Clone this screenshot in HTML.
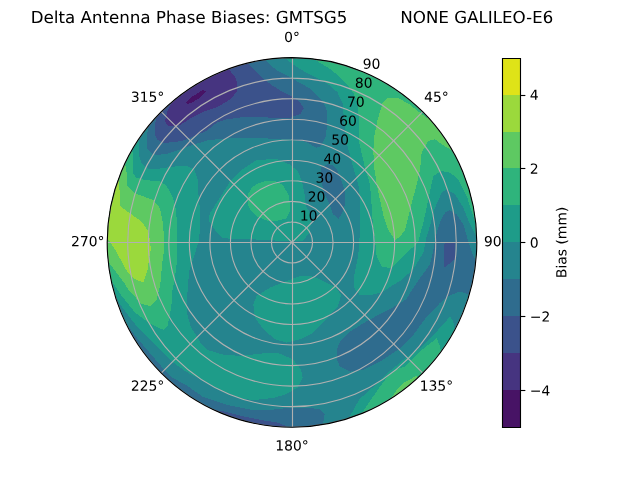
<!DOCTYPE html>
<html><head><meta charset="utf-8"><style>html,body{margin:0;padding:0;background:#fff;overflow:hidden}svg{display:block}</style></head><body>
<svg width="640" height="480" viewBox="0 0 460.8 345.6" version="1.1">
 
 <defs>
  <style type="text/css">*{stroke-linejoin: round; stroke-linecap: butt}</style>
 </defs>
 <g id="figure_1">
  <g id="patch_1">
   <path d="M 0 345.6 
L 460.8 345.6 
L 460.8 0 
L 0 0 
z
" style="fill: #ffffff"/>
  </g>
  <g id="axes_1">
   <g id="patch_2">
    <path d="M 343.296 174.528 
C 343.296 157.055246 339.854248 139.752393 333.167715 123.609673 
C 326.481182 107.466954 316.679903 92.798303 304.3248 80.4432 
C 291.969697 68.088097 277.301046 58.286818 261.158327 51.600285 
C 245.015607 44.913752 227.712754 41.472 210.24 41.472 
C 192.767246 41.472 175.464393 44.913752 159.321673 51.600285 
C 143.178954 58.286818 128.510303 68.088097 116.1552 80.4432 
C 103.800097 92.798303 93.998818 107.466954 87.312285 123.609673 
C 80.625752 139.752393 77.184 157.055246 77.184 174.528 
C 77.184 192.000754 80.625752 209.303607 87.312285 225.446327 
C 93.998818 241.589046 103.800097 256.257697 116.1552 268.6128 
C 128.510303 280.967903 143.178954 290.769182 159.321673 297.455715 
C 175.464393 304.142248 192.767246 307.584 210.24 307.584 
C 227.712754 307.584 245.015607 304.142248 261.158327 297.455715 
C 277.301046 290.769182 291.969697 280.967903 304.3248 268.6128 
C 316.679903 256.257697 326.481182 241.589046 333.167715 225.446327 
C 339.854248 209.303607 343.296 192.000754 343.296 174.528 
M 210.24 174.528 
C 210.24 174.528 210.24 174.528 210.24 174.528 
C 210.24 174.528 210.24 174.528 210.24 174.528 
C 210.24 174.528 210.24 174.528 210.24 174.528 
C 210.24 174.528 210.24 174.528 210.24 174.528 
C 210.24 174.528 210.24 174.528 210.24 174.528 
C 210.24 174.528 210.24 174.528 210.24 174.528 
C 210.24 174.528 210.24 174.528 210.24 174.528 
C 210.24 174.528 210.24 174.528 210.24 174.528 
C 210.24 174.528 210.24 174.528 210.24 174.528 
C 210.24 174.528 210.24 174.528 210.24 174.528 
C 210.24 174.528 210.24 174.528 210.24 174.528 
C 210.24 174.528 210.24 174.528 210.24 174.528 
C 210.24 174.528 210.24 174.528 210.24 174.528 
C 210.24 174.528 210.24 174.528 210.24 174.528 
C 210.24 174.528 210.24 174.528 210.24 174.528 
C 210.24 174.528 210.24 174.528 210.24 174.528 
z
" style="fill: #ffffff"/>
   </g>
   <g id="QuadContourSet_1">
    <path clip-path="url(#pded382b021)" style="fill: #471365"/>
    <path clip-path="url(#pded382b021)" style="fill: #463480"/>
    <path clip-path="url(#pded382b021)" style="fill: #3b528b"/>
    <path clip-path="url(#pded382b021)" style="fill: #2f6c8e"/>
    <path d="M 210.24 174.528 
L 210.24 174.528 
L 210.24 174.528 
L 210.24 174.528 
L 210.24 174.528 
L 210.24 174.528 
L 210.24 174.528 
L 210.24 174.528 
L 210.24 174.528 
L 210.24 174.528 
L 210.24 174.528 
L 210.24 174.528 
L 210.24 174.528 
L 210.24 174.528 
L 210.24 174.528 
L 210.24 174.528 
L 210.24 174.528 
L 210.24 174.528 
L 210.24 174.528 
L 210.24 174.528 
L 210.24 174.528 
L 210.24 174.528 
L 210.24 174.528 
L 210.24 174.528 
L 210.24 174.528 
L 210.24 174.528 
L 210.24 174.528 
L 210.24 174.528 
L 210.24 174.528 
L 210.24 174.528 
L 210.24 174.528 
L 210.24 174.528 
L 210.24 174.528 
L 210.24 174.528 
L 210.24 174.528 
L 210.24 174.528 
L 210.24 174.528 
L 210.24 174.528 
L 210.24 174.528 
L 210.24 174.528 
L 210.24 174.528 
L 210.24 174.528 
L 210.24 174.528 
L 210.24 174.528 
L 210.24 174.528 
L 210.24 174.528 
L 210.24 174.528 
L 210.24 174.528 
L 210.24 174.528 
L 210.24 174.528 
L 210.24 174.528 
L 210.24 174.528 
L 210.24 174.528 
L 210.24 174.528 
L 210.24 174.528 
L 210.24 174.528 
L 210.24 174.528 
L 210.24 174.528 
L 210.24 174.528 
L 210.24 174.528 
L 210.24 174.528 
L 210.24 174.528 
L 210.24 174.528 
L 210.24 174.528 
L 210.24 174.528 
L 210.24 174.528 
L 210.24 174.528 
L 210.24 174.528 
L 210.24 174.528 
L 210.24 174.528 
L 210.24 174.528 
L 210.24 174.528 
L 210.24 167.136 
L 210.24 159.744 
L 210.24 152.352 
L 210.24 144.96 
L 210.24 137.568 
L 210.24 130.176 
L 210.24 122.784 
L 210.24 115.392 
L 210.24 108 
L 210.24 100.608 
L 210.24 93.216 
L 210.24 85.824 
L 210.24 78.432 
L 210.24 71.04 
L 210.24 63.648 
L 210.24 56.256 
L 210.24 48.864 
L 210.24 41.472 
L 198.643405 41.978318 
L 187.135068 43.49342 
L 175.802573 46.005773 
L 164.732168 49.496259 
L 154.008105 53.938311 
L 143.712 59.298124 
L 133.922214 65.534906 
L 124.713252 72.601191 
L 116.1552 80.4432 
L 108.313191 89.001252 
L 101.246906 98.210214 
L 95.010124 108 
L 89.650311 118.296105 
L 85.208259 129.020168 
L 81.717773 140.090573 
L 79.20542 151.423068 
L 77.690318 162.931405 
L 77.184 174.528 
L 77.690318 186.124595 
L 79.20542 197.632932 
L 81.717773 208.965427 
L 85.208259 220.035832 
L 89.650311 230.759895 
L 95.010124 241.056 
L 101.246906 250.845786 
L 108.313191 260.054748 
L 116.1552 268.6128 
L 124.713252 276.454809 
L 133.922214 283.521094 
L 143.712 289.757876 
L 154.008105 295.117689 
L 164.732168 299.559741 
L 175.802573 303.050227 
L 187.135068 305.56258 
L 198.643405 307.077682 
L 210.24 307.584 
L 221.836595 307.077682 
L 233.344932 305.56258 
L 244.677427 303.050227 
L 255.747832 299.559741 
L 266.471895 295.117689 
L 276.768 289.757876 
L 286.557786 283.521094 
L 295.766748 276.454809 
L 304.3248 268.6128 
L 312.166809 260.054748 
L 319.233094 250.845786 
L 325.469876 241.056 
L 330.829689 230.759895 
L 335.271741 220.035832 
L 338.762227 208.965427 
L 341.27458 197.632932 
L 342.789682 186.124595 
L 343.296 174.528 
L 342.789682 162.931405 
L 341.27458 151.423068 
L 338.762227 140.090573 
L 335.271741 129.020168 
L 330.829689 118.296105 
L 325.469876 108 
L 319.233094 98.210214 
L 312.166809 89.001252 
L 304.3248 80.4432 
L 295.766748 72.601191 
L 286.557786 65.534906 
L 276.768 59.298124 
L 266.471895 53.938311 
L 255.747832 49.496259 
L 244.677427 46.005773 
L 233.344932 43.49342 
L 221.836595 41.978318 
L 210.24 41.472 
L 210.24 48.864 
L 210.24 56.256 
L 210.24 63.648 
L 210.24 71.04 
L 210.24 78.432 
L 210.24 85.824 
L 210.24 93.216 
L 210.24 100.608 
L 210.24 108 
L 210.24 115.392 
L 210.24 122.784 
L 210.24 130.176 
L 210.24 137.568 
L 210.24 144.96 
L 210.24 152.352 
L 210.24 159.744 
L 210.24 167.136 
L 210.24 174.528 
z
" clip-path="url(#pded382b021)" style="fill: #25848e"/>
    <path clip-path="url(#pded382b021)" style="fill: #1e9c89"/>
    <path clip-path="url(#pded382b021)" style="fill: #2fb47c"/>
    <path clip-path="url(#pded382b021)" style="fill: #5ec962"/>
    <path clip-path="url(#pded382b021)" style="fill: #9bd93c"/>
    <path clip-path="url(#pded382b021)" style="fill: #dfe318"/>
   </g>
   <g clip-path="url(#pded382b021)" shape-rendering="crispEdges"><path d="M95.76 81.36 L106.92 90.72 L106.20 95.04 L105.48 100.08 L105.48 106.56 L108.72 110.16 L112.32 111.60 L119.52 110.88 L126.72 108.72 L136.08 105.12 L150.48 100.80 L163.30 99.72 L178.34 99.00 L193.32 99.72 L208.30 100.30 L220.32 102.10 L227.52 106.34 L231.12 105.12 L234.72 97.92 L235.66 87.84 L235.44 80.64 L234.14 76.03 L230.40 70.78 L223.20 63.72 L215.10 59.22 L208.80 55.62 L201.60 52.02 L196.20 48.24 L191.52 43.20 L188.64 28.80 L159.84 36.00 L105.84 69.84Z" fill="#2f6c8e"/><path d="M102.96 72.36 L113.40 82.37 L111.96 87.84 L111.46 96.48 L113.40 100.80 L117.36 102.60 L121.68 102.60 L131.04 101.52 L141.12 97.56 L148.32 94.32 L156.24 88.20 L162.72 86.04 L172.80 84.60 L184.32 84.24 L195.62 84.74 L208.80 84.74 L216.00 82.30 L218.70 78.12 L216.00 73.62 L209.70 69.12 L202.50 65.52 L195.30 61.02 L188.10 55.62 L181.80 49.32 L178.20 45.72 L172.80 31.39 L144.00 39.60 L115.20 61.20Z" fill="#3b528b"/><path d="M115.20 63.36 L123.84 73.44 L120.60 80.28 L118.80 87.48 L120.60 90.36 L125.28 91.08 L129.60 90.00 L138.74 84.24 L146.88 80.28 L157.32 76.68 L166.32 71.28 L170.64 65.52 L171.00 60.48 L169.20 55.44 L164.88 50.04 L162.72 49.68 L159.84 36.00 L136.80 44.64Z" fill="#463480"/><path d="M133.92 73.94 L137.88 69.84 L145.80 64.94 L148.32 65.52 L144.72 69.84 L139.03 73.44 L135.14 74.88Z" fill="#471365"/><path d="M231.12 120.74 L235.94 118.08 L239.76 119.16 L242.64 122.40 L246.02 130.32 L248.40 138.74 L248.40 146.88 L247.18 151.92 L243.58 157.82 L239.76 154.08 L237.10 146.38 L233.28 138.74 L231.12 129.10Z" fill="#2f6c8e"/><path d="M324.00 151.34 L328.82 154.30 L333.58 161.50 L338.22 177.12 L340.20 182.88 L342.50 187.92 L357.12 188.64 L354.96 216.00 L338.83 216.14 L336.74 211.90 L331.20 209.81 L323.10 213.12 L316.80 218.16 L307.22 228.02 L297.58 241.20 L288.00 250.78 L273.60 260.42 L261.58 266.40 L252.00 267.62 L244.80 264.02 L242.28 257.98 L242.42 252.00 L244.80 246.02 L252.00 238.82 L261.58 232.78 L270.00 228.02 L279.58 223.20 L288.00 218.38 L292.32 215.64 L300.02 203.54 L309.60 190.30 L312.12 179.50 L314.64 167.04 L317.52 158.40 L320.40 153.14Z" fill="#2f6c8e"/><path d="M319.82 175.68 L322.56 174.24 L327.60 173.88 L327.60 186.70 L319.82 192.74Z" fill="#3b528b"/><path d="M72.72 216.00 L83.16 213.84 L89.82 231.62 L98.82 243.58 L107.82 254.09 L116.82 264.60 L124.34 272.09 L133.92 277.20 L145.94 285.62 L163.94 291.60 L181.94 295.20 L191.52 295.56 L203.54 294.12 L221.54 293.54 L229.90 294.70 L233.64 298.44 L232.56 305.28 L237.60 320.40 L158.40 316.80 L93.60 288.00 L72.72 237.60Z" fill="#2f6c8e"/><path d="M154.80 295.20 L161.50 296.28 L175.90 299.88 L191.52 303.12 L198.72 303.84 L205.92 306.72 L208.80 320.40 L154.80 309.60Z" fill="#3b528b"/><path d="M90.00 90.00 L100.08 97.92 L100.44 105.12 L100.08 112.32 L102.24 118.08 L106.56 121.32 L112.32 121.68 L124.34 120.02 L133.92 119.16 L139.90 121.90 L142.34 129.10 L142.92 140.40 L144.00 151.20 L144.36 160.78 L143.28 172.80 L139.68 184.82 L136.44 194.40 L135.36 203.76 L134.64 216.58 L135.00 226.80 L137.52 235.80 L141.12 241.20 L144.72 247.68 L149.54 252.00 L160.34 255.24 L173.52 256.32 L191.52 254.16 L201.10 254.52 L210.74 258.70 L216.72 265.90 L217.94 271.94 L214.34 279.14 L205.92 283.90 L197.50 286.34 L183.60 288.00 L174.74 287.28 L157.90 280.80 L144.00 272.88 L133.92 267.62 L125.28 261.36 L117.00 253.44 L109.80 246.60 L100.80 237.60 L95.83 231.62 L86.83 219.60 L80.06 206.10 L64.80 208.80 L72.00 115.20Z" fill="#1e9c89"/><path d="M184.32 115.56 L198.72 114.12 L208.30 118.30 L214.34 123.12 L217.30 130.32 L219.10 138.74 L220.32 148.68 L222.70 152.42 L223.92 160.78 L222.70 167.98 L217.94 173.38 L202.32 173.38 L184.32 172.44 L160.34 171.58 L155.52 166.82 L150.12 158.40 L151.20 153.36 L159.12 141.12 L165.10 131.54 L174.74 121.90Z" fill="#1e9c89"/><path d="M185.76 132.12 L191.52 130.32 L198.72 130.68 L203.76 133.20 L207.72 140.40 L208.80 147.60 L208.44 152.64 L205.92 157.32 L200.16 158.76 L192.96 159.12 L185.76 156.24 L180.72 151.92 L178.20 146.88 L178.56 139.68 L181.44 135.00Z" fill="#2fb47c"/><path d="M182.38 219.10 L184.82 213.12 L194.40 207.14 L206.42 202.32 L216.00 198.72 L223.20 198.72 L230.40 201.10 L237.60 204.84 L241.92 206.64 L245.52 212.62 L243.14 221.04 L237.10 227.02 L232.78 232.34 L225.58 239.54 L216.00 244.30 L206.42 246.74 L198.00 244.30 L189.58 237.10 L183.60 228.74Z" fill="#1e9c89"/><path d="M204.48 41.47 L210.17 45.65 L216.00 49.68 L223.20 53.71 L230.40 57.24 L236.88 61.20 L243.00 66.42 L246.60 74.52 L247.50 83.52 L247.68 87.30 L249.62 102.74 L254.38 120.74 L257.98 132.70 L259.20 144.00 L259.20 160.78 L258.62 178.78 L257.04 188.64 L255.10 198.22 L254.52 206.64 L258.70 212.04 L265.90 212.62 L275.54 210.24 L282.74 205.42 L288.00 202.32 L297.58 193.90 L304.78 181.94 L307.22 169.92 L309.60 162.72 L313.20 149.54 L318.02 138.74 L321.62 136.30 L327.60 139.90 L333.58 149.54 L338.40 161.50 L342.72 169.92 L360.00 169.92 L338.40 93.60 L288.00 50.40 L204.48 25.20Z" fill="#1e9c89"/><path d="M251.28 300.96 L258.70 287.50 L269.50 277.92 L279.14 268.34 L285.12 263.52 L291.60 257.98 L303.62 249.62 L313.20 239.98 L324.00 228.02 L326.38 231.62 L327.60 237.60 L342.00 241.20 L273.60 316.80Z" fill="#1e9c89"/><path d="M259.20 299.52 L262.30 294.70 L273.10 279.14 L280.30 269.50 L285.12 265.90 L291.60 264.02 L303.62 252.00 L314.42 243.58 L316.80 249.62 L317.52 253.44 L331.20 266.40 L280.80 309.60Z" fill="#2fb47c"/><path d="M282.24 285.84 L285.12 281.52 L291.60 275.04 L300.02 270.58 L306.00 277.20 L288.00 291.60Z" fill="#5ec962"/><path d="M224.10 41.76 L231.30 45.72 L238.50 50.22 L244.80 55.62 L250.20 61.02 L254.70 67.32 L257.40 74.52 L258.30 83.52 L258.34 87.84 L258.62 102.74 L262.80 120.74 L266.40 132.70 L267.62 148.32 L267.84 154.80 L270.00 172.80 L271.22 184.82 L274.82 192.02 L282.02 193.18 L285.62 189.58 L292.82 182.38 L296.64 178.56 L300.96 174.96 L305.28 158.40 L308.38 143.50 L311.98 126.72 L318.02 123.12 L324.00 124.34 L329.98 129.10 L336.02 141.12 L340.78 155.52 L343.44 167.04 L360.00 167.04 L345.60 86.40 L302.40 50.40 L230.40 27.36Z" fill="#2fb47c"/><path d="M269.50 97.92 L271.94 85.90 L275.54 73.94 L279.14 70.34 L286.34 70.34 L294.70 75.10 L302.40 81.14 L307.22 84.74 L316.80 72.00 L345.60 115.20 L327.60 109.94 L324.00 107.50 L318.02 103.90 L313.20 100.30 L308.38 101.52 L303.62 109.94 L302.40 122.40 L300.24 131.76 L295.20 151.20 L291.60 165.60 L288.00 170.64 L284.40 172.80 L279.58 165.60 L275.98 154.80 L273.60 144.00 L271.22 132.70 L269.42 120.74 L268.78 108.72Z" fill="#5ec962"/><path d="M82.80 100.80 L94.32 106.56 L96.12 111.60 L95.40 124.20 L98.10 127.80 L104.40 129.60 L115.20 130.68 L119.52 133.20 L124.34 141.84 L126.72 151.20 L127.30 158.98 L127.30 189.00 L125.82 201.02 L124.20 208.80 L123.30 221.40 L120.60 234.90 L117.90 237.60 L108.00 233.10 L97.20 225.00 L86.40 211.50 L79.02 200.23 L64.80 201.60 L68.40 115.20Z" fill="#2fb47c"/><path d="M72.00 115.20 L90.00 117.36 L91.08 123.84 L91.22 133.20 L97.20 139.18 L110.38 144.00 L115.20 149.98 L117.58 162.00 L118.22 180.00 L116.82 189.00 L115.34 205.20 L112.68 216.00 L108.36 220.50 L101.70 218.70 L92.70 208.80 L89.82 204.30 L81.72 193.50 L77.76 187.92 L64.80 188.64Z" fill="#5ec962"/><path d="M68.40 126.00 L85.32 128.88 L86.40 141.12 L86.76 148.68 L93.60 153.58 L102.02 159.62 L106.78 166.82 L108.00 172.80 L108.58 180.00 L107.82 183.02 L106.20 194.40 L103.32 203.40 L96.84 200.88 L91.15 194.83 L83.09 180.00 L77.76 172.08 L64.80 172.08Z" fill="#9bd93c"/></g>
<g id="matplotlib.axis_1">
    <g id="xtick_1">
     <g id="line2d_1">
      <path d="M 210.6 174.6 L 210.6 42.12" clip-path="url(#pded382b021)" style="fill: none; stroke: #b0b0b0; stroke-width: 0.8; stroke-linecap: square"/>
     </g>
     <g id="text_1">
      <!-- 0° -->
      <g transform="translate(204.55875 30.231375) scale(0.1 -0.1)">
       <defs>
        <path id="DejaVuSans-30" d="M 2034 4250 
Q 1547 4250 1301 3770 
Q 1056 3291 1056 2328 
Q 1056 1369 1301 889 
Q 1547 409 2034 409 
Q 2525 409 2770 889 
Q 3016 1369 3016 2328 
Q 3016 3291 2770 3770 
Q 2525 4250 2034 4250 
z
M 2034 4750 
Q 2819 4750 3233 4129 
Q 3647 3509 3647 2328 
Q 3647 1150 3233 529 
Q 2819 -91 2034 -91 
Q 1250 -91 836 529 
Q 422 1150 422 2328 
Q 422 3509 836 4129 
Q 1250 4750 2034 4750 
z
" transform="scale(0.015625)"/>
        <path id="DejaVuSans-b0" d="M 1600 4347 
Q 1350 4347 1178 4173 
Q 1006 4000 1006 3750 
Q 1006 3503 1178 3333 
Q 1350 3163 1600 3163 
Q 1850 3163 2022 3333 
Q 2194 3503 2194 3750 
Q 2194 3997 2020 4172 
Q 1847 4347 1600 4347 
z
M 1600 4750 
Q 1800 4750 1984 4673 
Q 2169 4597 2303 4453 
Q 2447 4313 2519 4134 
Q 2591 3956 2591 3750 
Q 2591 3338 2302 3052 
Q 2013 2766 1594 2766 
Q 1172 2766 890 3047 
Q 609 3328 609 3750 
Q 609 4169 896 4459 
Q 1184 4750 1600 4750 
z
" transform="scale(0.015625)"/>
       </defs>
       <use href="#DejaVuSans-30"/>
       <use href="#DejaVuSans-b0" transform="translate(63.623047 0)"/>
      </g>
     </g>
    </g>
    <g id="xtick_2">
     <g id="line2d_2">
      <path d="M 210.24 174.528 
L 304.3248 80.4432 
" clip-path="url(#pded382b021)" style="fill: none; stroke: #b0b0b0; stroke-width: 0.8; stroke-linecap: square"/>
     </g>
     <g id="text_2">
      <!-- 45° -->
      <g transform="translate(305.361795 73.30308) scale(0.1 -0.1)">
       <defs>
        <path id="DejaVuSans-34" d="M 2419 4116 
L 825 1625 
L 2419 1625 
L 2419 4116 
z
M 2253 4666 
L 3047 4666 
L 3047 1625 
L 3713 1625 
L 3713 1100 
L 3047 1100 
L 3047 0 
L 2419 0 
L 2419 1100 
L 313 1100 
L 313 1709 
L 2253 4666 
z
" transform="scale(0.015625)"/>
        <path id="DejaVuSans-35" d="M 691 4666 
L 3169 4666 
L 3169 4134 
L 1269 4134 
L 1269 2991 
Q 1406 3038 1543 3061 
Q 1681 3084 1819 3084 
Q 2600 3084 3056 2656 
Q 3513 2228 3513 1497 
Q 3513 744 3044 326 
Q 2575 -91 1722 -91 
Q 1428 -91 1123 -41 
Q 819 9 494 109 
L 494 744 
Q 775 591 1075 516 
Q 1375 441 1709 441 
Q 2250 441 2565 725 
Q 2881 1009 2881 1497 
Q 2881 1984 2565 2268 
Q 2250 2553 1709 2553 
Q 1456 2553 1204 2497 
Q 953 2441 691 2322 
L 691 4666 
z
" transform="scale(0.015625)"/>
       </defs>
       <use href="#DejaVuSans-34"/>
       <use href="#DejaVuSans-35" transform="translate(63.623047 0)"/>
       <use href="#DejaVuSans-b0" transform="translate(127.246094 0)"/>
      </g>
     </g>
    </g>
    <g id="xtick_3">
     <g id="line2d_3">
      <path d="M 210.6 174.6 L 343.8 174.6" clip-path="url(#pded382b021)" style="fill: none; stroke: #b0b0b0; stroke-width: 0.8; stroke-linecap: square"/>
     </g>
     <g id="text_3">
      <!-- 90° -->
      <g transform="translate(348.4335 177.287375) scale(0.1 -0.1)">
       <defs>
        <path id="DejaVuSans-39" d="M 703 97 
L 703 672 
Q 941 559 1184 500 
Q 1428 441 1663 441 
Q 2288 441 2617 861 
Q 2947 1281 2994 2138 
Q 2813 1869 2534 1725 
Q 2256 1581 1919 1581 
Q 1219 1581 811 2004 
Q 403 2428 403 3163 
Q 403 3881 828 4315 
Q 1253 4750 1959 4750 
Q 2769 4750 3195 4129 
Q 3622 3509 3622 2328 
Q 3622 1225 3098 567 
Q 2575 -91 1691 -91 
Q 1453 -91 1209 -44 
Q 966 3 703 97 
z
M 1959 2075 
Q 2384 2075 2632 2365 
Q 2881 2656 2881 3163 
Q 2881 3666 2632 3958 
Q 2384 4250 1959 4250 
Q 1534 4250 1286 3958 
Q 1038 3666 1038 3163 
Q 1038 2656 1286 2365 
Q 1534 2075 1959 2075 
z
" transform="scale(0.015625)"/>
       </defs>
       <use href="#DejaVuSans-39"/>
       <use href="#DejaVuSans-30" transform="translate(63.623047 0)"/>
       <use href="#DejaVuSans-b0" transform="translate(127.246094 0)"/>
      </g>
     </g>
    </g>
    <g id="xtick_4">
     <g id="line2d_4">
      <path d="M 210.24 174.528 
L 304.3248 268.6128 
" clip-path="url(#pded382b021)" style="fill: none; stroke: #b0b0b0; stroke-width: 0.8; stroke-linecap: square"/>
     </g>
     <g id="text_4">
      <!-- 135° -->
      <g transform="translate(302.180545 281.27167) scale(0.1 -0.1)">
       <defs>
        <path id="DejaVuSans-31" d="M 794 531 
L 1825 531 
L 1825 4091 
L 703 3866 
L 703 4441 
L 1819 4666 
L 2450 4666 
L 2450 531 
L 3481 531 
L 3481 0 
L 794 0 
L 794 531 
z
" transform="scale(0.015625)"/>
        <path id="DejaVuSans-33" d="M 2597 2516 
Q 3050 2419 3304 2112 
Q 3559 1806 3559 1356 
Q 3559 666 3084 287 
Q 2609 -91 1734 -91 
Q 1441 -91 1130 -33 
Q 819 25 488 141 
L 488 750 
Q 750 597 1062 519 
Q 1375 441 1716 441 
Q 2309 441 2620 675 
Q 2931 909 2931 1356 
Q 2931 1769 2642 2001 
Q 2353 2234 1838 2234 
L 1294 2234 
L 1294 2753 
L 1863 2753 
Q 2328 2753 2575 2939 
Q 2822 3125 2822 3475 
Q 2822 3834 2567 4026 
Q 2313 4219 1838 4219 
Q 1578 4219 1281 4162 
Q 984 4106 628 3988 
L 628 4550 
Q 988 4650 1302 4700 
Q 1616 4750 1894 4750 
Q 2613 4750 3031 4423 
Q 3450 4097 3450 3541 
Q 3450 3153 3228 2886 
Q 3006 2619 2597 2516 
z
" transform="scale(0.015625)"/>
       </defs>
       <use href="#DejaVuSans-31"/>
       <use href="#DejaVuSans-33" transform="translate(63.623047 0)"/>
       <use href="#DejaVuSans-35" transform="translate(127.246094 0)"/>
       <use href="#DejaVuSans-b0" transform="translate(190.869141 0)"/>
      </g>
     </g>
    </g>
    <g id="xtick_5">
     <g id="line2d_5">
      <path d="M 210.6 174.6 L 210.6 307.8" clip-path="url(#pded382b021)" style="fill: none; stroke: #b0b0b0; stroke-width: 0.8; stroke-linecap: square"/>
     </g>
     <g id="text_5">
      <!-- 180° -->
      <g transform="translate(198.19625 324.343375) scale(0.1 -0.1)">
       <defs>
        <path id="DejaVuSans-38" d="M 2034 2216 
Q 1584 2216 1326 1975 
Q 1069 1734 1069 1313 
Q 1069 891 1326 650 
Q 1584 409 2034 409 
Q 2484 409 2743 651 
Q 3003 894 3003 1313 
Q 3003 1734 2745 1975 
Q 2488 2216 2034 2216 
z
M 1403 2484 
Q 997 2584 770 2862 
Q 544 3141 544 3541 
Q 544 4100 942 4425 
Q 1341 4750 2034 4750 
Q 2731 4750 3128 4425 
Q 3525 4100 3525 3541 
Q 3525 3141 3298 2862 
Q 3072 2584 2669 2484 
Q 3125 2378 3379 2068 
Q 3634 1759 3634 1313 
Q 3634 634 3220 271 
Q 2806 -91 2034 -91 
Q 1263 -91 848 271 
Q 434 634 434 1313 
Q 434 1759 690 2068 
Q 947 2378 1403 2484 
z
M 1172 3481 
Q 1172 3119 1398 2916 
Q 1625 2713 2034 2713 
Q 2441 2713 2670 2916 
Q 2900 3119 2900 3481 
Q 2900 3844 2670 4047 
Q 2441 4250 2034 4250 
Q 1625 4250 1398 4047 
Q 1172 3844 1172 3481 
z
" transform="scale(0.015625)"/>
       </defs>
       <use href="#DejaVuSans-31"/>
       <use href="#DejaVuSans-38" transform="translate(63.623047 0)"/>
       <use href="#DejaVuSans-30" transform="translate(127.246094 0)"/>
       <use href="#DejaVuSans-b0" transform="translate(190.869141 0)"/>
      </g>
     </g>
    </g>
    <g id="xtick_6">
     <g id="line2d_6">
      <path d="M 210.24 174.528 
L 116.1552 268.6128 
" clip-path="url(#pded382b021)" style="fill: none; stroke: #b0b0b0; stroke-width: 0.8; stroke-linecap: square"/>
     </g>
     <g id="text_6">
      <!-- 225° -->
      <g transform="translate(94.211955 281.27167) scale(0.1 -0.1)">
       <defs>
        <path id="DejaVuSans-32" d="M 1228 531 
L 3431 531 
L 3431 0 
L 469 0 
L 469 531 
Q 828 903 1448 1529 
Q 2069 2156 2228 2338 
Q 2531 2678 2651 2914 
Q 2772 3150 2772 3378 
Q 2772 3750 2511 3984 
Q 2250 4219 1831 4219 
Q 1534 4219 1204 4116 
Q 875 4013 500 3803 
L 500 4441 
Q 881 4594 1212 4672 
Q 1544 4750 1819 4750 
Q 2544 4750 2975 4387 
Q 3406 4025 3406 3419 
Q 3406 3131 3298 2873 
Q 3191 2616 2906 2266 
Q 2828 2175 2409 1742 
Q 1991 1309 1228 531 
z
" transform="scale(0.015625)"/>
       </defs>
       <use href="#DejaVuSans-32"/>
       <use href="#DejaVuSans-32" transform="translate(63.623047 0)"/>
       <use href="#DejaVuSans-35" transform="translate(127.246094 0)"/>
       <use href="#DejaVuSans-b0" transform="translate(190.869141 0)"/>
      </g>
     </g>
    </g>
    <g id="xtick_7">
     <g id="line2d_7">
      <path d="M 210.6 174.6 L 77.4 174.6" clip-path="url(#pded382b021)" style="fill: none; stroke: #b0b0b0; stroke-width: 0.8; stroke-linecap: square"/>
     </g>
     <g id="text_7">
      <!-- 270° -->
      <g transform="translate(51.14025 177.287375) scale(0.1 -0.1)">
       <defs>
        <path id="DejaVuSans-37" d="M 525 4666 
L 3525 4666 
L 3525 4397 
L 1831 0 
L 1172 0 
L 2766 4134 
L 525 4134 
L 525 4666 
z
" transform="scale(0.015625)"/>
       </defs>
       <use href="#DejaVuSans-32"/>
       <use href="#DejaVuSans-37" transform="translate(63.623047 0)"/>
       <use href="#DejaVuSans-30" transform="translate(127.246094 0)"/>
       <use href="#DejaVuSans-b0" transform="translate(190.869141 0)"/>
      </g>
     </g>
    </g>
    <g id="xtick_8">
     <g id="line2d_8">
      <path d="M 210.24 174.528 
L 116.1552 80.4432 
" clip-path="url(#pded382b021)" style="fill: none; stroke: #b0b0b0; stroke-width: 0.8; stroke-linecap: square"/>
     </g>
     <g id="text_8">
      <!-- 315° -->
      <g transform="translate(94.211955 73.30308) scale(0.1 -0.1)">
       <use href="#DejaVuSans-33"/>
       <use href="#DejaVuSans-31" transform="translate(63.623047 0)"/>
       <use href="#DejaVuSans-35" transform="translate(127.246094 0)"/>
       <use href="#DejaVuSans-b0" transform="translate(190.869141 0)"/>
      </g>
     </g>
    </g>
   </g>
   <g id="matplotlib.axis_2">
    <g id="ytick_1">
     <g id="line2d_9">
      <path d="M 210.24 159.744 
C 212.181417 159.744 214.103956 160.126417 215.897592 160.869365 
C 217.691227 161.612313 219.321077 162.701344 220.693867 164.074133 
C 222.066656 165.446923 223.155687 167.076773 223.898635 168.870408 
C 224.641583 170.664044 225.024 172.586583 225.024 174.528 
C 225.024 176.469417 224.641583 178.391956 223.898635 180.185592 
C 223.155687 181.979227 222.066656 183.609077 220.693867 184.981867 
C 219.321077 186.354656 217.691227 187.443687 215.897592 188.186635 
C 214.103956 188.929583 212.181417 189.312 210.24 189.312 
C 208.298583 189.312 206.376044 188.929583 204.582408 188.186635 
C 202.788773 187.443687 201.158923 186.354656 199.786133 184.981867 
C 198.413344 183.609077 197.324313 181.979227 196.581365 180.185592 
C 195.838417 178.391956 195.456 176.469417 195.456 174.528 
C 195.456 172.586583 195.838417 170.664044 196.581365 168.870408 
C 197.324313 167.076773 198.413344 165.446923 199.786133 164.074133 
C 201.158923 162.701344 202.788773 161.612313 204.582408 160.869365 
C 206.376044 160.126417 208.298583 159.744 210.24 159.744 
" clip-path="url(#pded382b021)" style="fill: none; stroke: #b0b0b0; stroke-width: 0.8; stroke-linecap: square"/>
     </g>
     <g id="text_9">
      <!-- 10 -->
      <g transform="translate(215.897592 158.789677) scale(0.1 -0.1)">
       <use href="#DejaVuSans-31"/>
       <use href="#DejaVuSans-30" transform="translate(63.623047 0)"/>
      </g>
     </g>
    </g>
    <g id="ytick_2">
     <g id="line2d_10">
      <path d="M 210.24 144.96 
C 214.122834 144.96 217.967913 145.724834 221.555184 147.21073 
C 225.142455 148.696626 228.402155 150.874688 231.147733 153.620267 
C 233.893312 156.365845 236.071374 159.625545 237.55727 163.212816 
C 239.043166 166.800087 239.808 170.645166 239.808 174.528 
C 239.808 178.410834 239.043166 182.255913 237.55727 185.843184 
C 236.071374 189.430455 233.893312 192.690155 231.147733 195.435733 
C 228.402155 198.181312 225.142455 200.359374 221.555184 201.84527 
C 217.967913 203.331166 214.122834 204.096 210.24 204.096 
C 206.357166 204.096 202.512087 203.331166 198.924816 201.84527 
C 195.337545 200.359374 192.077845 198.181312 189.332267 195.435733 
C 186.586688 192.690155 184.408626 189.430455 182.92273 185.843184 
C 181.436834 182.255913 180.672 178.410834 180.672 174.528 
C 180.672 170.645166 181.436834 166.800087 182.92273 163.212816 
C 184.408626 159.625545 186.586688 156.365845 189.332267 153.620267 
C 192.077845 150.874688 195.337545 148.696626 198.924816 147.21073 
C 202.512087 145.724834 206.357166 144.96 210.24 144.96 
" clip-path="url(#pded382b021)" style="fill: none; stroke: #b0b0b0; stroke-width: 0.8; stroke-linecap: square"/>
     </g>
     <g id="text_10">
      <!-- 20 -->
      <g transform="translate(221.555184 145.131042) scale(0.1 -0.1)">
       <use href="#DejaVuSans-32"/>
       <use href="#DejaVuSans-30" transform="translate(63.623047 0)"/>
      </g>
     </g>
    </g>
    <g id="ytick_3">
     <g id="line2d_11">
      <path d="M 210.24 130.176 
C 216.064251 130.176 221.831869 131.323251 227.212776 133.552095 
C 232.593682 135.780939 237.483232 139.048032 241.6016 143.1664 
C 245.719968 147.284768 248.987061 152.174318 251.215905 157.555224 
C 253.444749 162.936131 254.592 168.703749 254.592 174.528 
C 254.592 180.352251 253.444749 186.119869 251.215905 191.500776 
C 248.987061 196.881682 245.719968 201.771232 241.6016 205.8896 
C 237.483232 210.007968 232.593682 213.275061 227.212776 215.503905 
C 221.831869 217.732749 216.064251 218.88 210.24 218.88 
C 204.415749 218.88 198.648131 217.732749 193.267224 215.503905 
C 187.886318 213.275061 182.996768 210.007968 178.8784 205.8896 
C 174.760032 201.771232 171.492939 196.881682 169.264095 191.500776 
C 167.035251 186.119869 165.888 180.352251 165.888 174.528 
C 165.888 168.703749 167.035251 162.936131 169.264095 157.555224 
C 171.492939 152.174318 174.760032 147.284768 178.8784 143.1664 
C 182.996768 139.048032 187.886318 135.780939 193.267224 133.552095 
C 198.648131 131.323251 204.415749 130.176 210.24 130.176 
" clip-path="url(#pded382b021)" style="fill: none; stroke: #b0b0b0; stroke-width: 0.8; stroke-linecap: square"/>
     </g>
     <g id="text_11">
      <!-- 30 -->
      <g transform="translate(227.212776 131.472407) scale(0.1 -0.1)">
       <use href="#DejaVuSans-33"/>
       <use href="#DejaVuSans-30" transform="translate(63.623047 0)"/>
      </g>
     </g>
    </g>
    <g id="ytick_4">
     <g id="line2d_12">
      <path d="M 210.24 115.392 
C 218.005668 115.392 225.695825 116.921667 232.870367 119.89346 
C 240.04491 122.865253 246.56431 127.221377 252.055467 132.712533 
C 257.546623 138.20369 261.902747 144.72309 264.87454 151.897633 
C 267.846333 159.072175 269.376 166.762332 269.376 174.528 
C 269.376 182.293668 267.846333 189.983825 264.87454 197.158367 
C 261.902747 204.33291 257.546623 210.85231 252.055467 216.343467 
C 246.56431 221.834623 240.04491 226.190747 232.870367 229.16254 
C 225.695825 232.134333 218.005668 233.664 210.24 233.664 
C 202.474332 233.664 194.784175 232.134333 187.609633 229.16254 
C 180.43509 226.190747 173.91569 221.834623 168.424533 216.343467 
C 162.933377 210.85231 158.577253 204.33291 155.60546 197.158367 
C 152.633667 189.983825 151.104 182.293668 151.104 174.528 
C 151.104 166.762332 152.633667 159.072175 155.60546 151.897633 
C 158.577253 144.72309 162.933377 138.20369 168.424533 132.712533 
C 173.91569 127.221377 180.43509 122.865253 187.609633 119.89346 
C 194.784175 116.921667 202.474332 115.392 210.24 115.392 
" clip-path="url(#pded382b021)" style="fill: none; stroke: #b0b0b0; stroke-width: 0.8; stroke-linecap: square"/>
     </g>
     <g id="text_12">
      <!-- 40 -->
      <g transform="translate(232.870367 117.813772) scale(0.1 -0.1)">
       <use href="#DejaVuSans-34"/>
       <use href="#DejaVuSans-30" transform="translate(63.623047 0)"/>
      </g>
     </g>
    </g>
    <g id="ytick_5">
     <g id="line2d_13">
      <path d="M 210.24 100.608 
C 219.947085 100.608 229.559782 102.520084 238.527959 106.234825 
C 247.496137 109.949566 255.645387 115.394721 262.509333 122.258667 
C 269.373279 129.122613 274.818434 137.271863 278.533175 146.240041 
C 282.247916 155.208218 284.16 164.820915 284.16 174.528 
C 284.16 184.235085 282.247916 193.847782 278.533175 202.815959 
C 274.818434 211.784137 269.373279 219.933387 262.509333 226.797333 
C 255.645387 233.661279 247.496137 239.106434 238.527959 242.821175 
C 229.559782 246.535916 219.947085 248.448 210.24 248.448 
C 200.532915 248.448 190.920218 246.535916 181.952041 242.821175 
C 172.983863 239.106434 164.834613 233.661279 157.970667 226.797333 
C 151.106721 219.933387 145.661566 211.784137 141.946825 202.815959 
C 138.232084 193.847782 136.32 184.235085 136.32 174.528 
C 136.32 164.820915 138.232084 155.208218 141.946825 146.240041 
C 145.661566 137.271863 151.106721 129.122613 157.970667 122.258667 
C 164.834613 115.394721 172.983863 109.949566 181.952041 106.234825 
C 190.920218 102.520084 200.532915 100.608 210.24 100.608 
" clip-path="url(#pded382b021)" style="fill: none; stroke: #b0b0b0; stroke-width: 0.8; stroke-linecap: square"/>
     </g>
     <g id="text_13">
      <!-- 50 -->
      <g transform="translate(238.527959 104.155137) scale(0.1 -0.1)">
       <use href="#DejaVuSans-35"/>
       <use href="#DejaVuSans-30" transform="translate(63.623047 0)"/>
      </g>
     </g>
    </g>
    <g id="ytick_6">
     <g id="line2d_14">
      <path d="M 210.24 85.824 
C 221.888503 85.824 233.423738 88.118501 244.185551 92.57619 
C 254.947364 97.033879 264.726465 103.568065 272.9632 111.8048 
C 281.199935 120.041535 287.734121 129.820636 292.19181 140.582449 
C 296.649499 151.344262 298.944 162.879497 298.944 174.528 
C 298.944 186.176503 296.649499 197.711738 292.19181 208.473551 
C 287.734121 219.235364 281.199935 229.014465 272.9632 237.2512 
C 264.726465 245.487935 254.947364 252.022121 244.185551 256.47981 
C 233.423738 260.937499 221.888503 263.232 210.24 263.232 
C 198.591497 263.232 187.056262 260.937499 176.294449 256.47981 
C 165.532636 252.022121 155.753535 245.487935 147.5168 237.2512 
C 139.280065 229.014465 132.745879 219.235364 128.28819 208.473551 
C 123.830501 197.711738 121.536 186.176503 121.536 174.528 
C 121.536 162.879497 123.830501 151.344262 128.28819 140.582449 
C 132.745879 129.820636 139.280065 120.041535 147.5168 111.8048 
C 155.753535 103.568065 165.532636 97.033879 176.294449 92.57619 
C 187.056262 88.118501 198.591497 85.824 210.24 85.824 
" clip-path="url(#pded382b021)" style="fill: none; stroke: #b0b0b0; stroke-width: 0.8; stroke-linecap: square"/>
     </g>
     <g id="text_14">
      <!-- 60 -->
      <g transform="translate(244.185551 90.496502) scale(0.1 -0.1)">
       <defs>
        <path id="DejaVuSans-36" d="M 2113 2584 
Q 1688 2584 1439 2293 
Q 1191 2003 1191 1497 
Q 1191 994 1439 701 
Q 1688 409 2113 409 
Q 2538 409 2786 701 
Q 3034 994 3034 1497 
Q 3034 2003 2786 2293 
Q 2538 2584 2113 2584 
z
M 3366 4563 
L 3366 3988 
Q 3128 4100 2886 4159 
Q 2644 4219 2406 4219 
Q 1781 4219 1451 3797 
Q 1122 3375 1075 2522 
Q 1259 2794 1537 2939 
Q 1816 3084 2150 3084 
Q 2853 3084 3261 2657 
Q 3669 2231 3669 1497 
Q 3669 778 3244 343 
Q 2819 -91 2113 -91 
Q 1303 -91 875 529 
Q 447 1150 447 2328 
Q 447 3434 972 4092 
Q 1497 4750 2381 4750 
Q 2619 4750 2861 4703 
Q 3103 4656 3366 4563 
z
" transform="scale(0.015625)"/>
       </defs>
       <use href="#DejaVuSans-36"/>
       <use href="#DejaVuSans-30" transform="translate(63.623047 0)"/>
      </g>
     </g>
    </g>
    <g id="ytick_7">
     <g id="line2d_15">
      <path d="M 210.24 71.04 
C 223.82992 71.04 237.287694 73.716918 249.843143 78.917555 
C 262.398592 84.118192 273.807542 91.741409 283.417067 101.350933 
C 293.026591 110.960458 300.649808 122.369408 305.850445 134.924857 
C 311.051082 147.480306 313.728 160.93808 313.728 174.528 
C 313.728 188.11792 311.051082 201.575694 305.850445 214.131143 
C 300.649808 226.686592 293.026591 238.095542 283.417067 247.705067 
C 273.807542 257.314591 262.398592 264.937808 249.843143 270.138445 
C 237.287694 275.339082 223.82992 278.016 210.24 278.016 
C 196.65008 278.016 183.192306 275.339082 170.636857 270.138445 
C 158.081408 264.937808 146.672458 257.314591 137.062933 247.705067 
C 127.453409 238.095542 119.830192 226.686592 114.629555 214.131143 
C 109.428918 201.575694 106.752 188.11792 106.752 174.528 
C 106.752 160.93808 109.428918 147.480306 114.629555 134.924857 
C 119.830192 122.369408 127.453409 110.960458 137.062933 101.350933 
C 146.672458 91.741409 158.081408 84.118192 170.636857 78.917555 
C 183.192306 73.716918 196.65008 71.04 210.24 71.04 
" clip-path="url(#pded382b021)" style="fill: none; stroke: #b0b0b0; stroke-width: 0.8; stroke-linecap: square"/>
     </g>
     <g id="text_15">
      <!-- 70 -->
      <g transform="translate(249.843143 76.837867) scale(0.1 -0.1)">
       <use href="#DejaVuSans-37"/>
       <use href="#DejaVuSans-30" transform="translate(63.623047 0)"/>
      </g>
     </g>
    </g>
    <g id="ytick_8">
     <g id="line2d_16">
      <path d="M 210.24 56.256 
C 225.771337 56.256 241.151651 59.315335 255.500735 65.25892 
C 269.849819 71.202505 282.88862 79.914753 293.870933 90.897067 
C 304.853247 101.87938 313.565495 114.918181 319.50908 129.267265 
C 325.452665 143.616349 328.512 158.996663 328.512 174.528 
C 328.512 190.059337 325.452665 205.439651 319.50908 219.788735 
C 313.565495 234.137819 304.853247 247.17662 293.870933 258.158933 
C 282.88862 269.141247 269.849819 277.853495 255.500735 283.79708 
C 241.151651 289.740665 225.771337 292.8 210.24 292.8 
C 194.708663 292.8 179.328349 289.740665 164.979265 283.79708 
C 150.630181 277.853495 137.59138 269.141247 126.609067 258.158933 
C 115.626753 247.17662 106.914505 234.137819 100.97092 219.788735 
C 95.027335 205.439651 91.968 190.059337 91.968 174.528 
C 91.968 158.996663 95.027335 143.616349 100.97092 129.267265 
C 106.914505 114.918181 115.626753 101.87938 126.609067 90.897067 
C 137.59138 79.914753 150.630181 71.202505 164.979265 65.25892 
C 179.328349 59.315335 194.708663 56.256 210.24 56.256 
" clip-path="url(#pded382b021)" style="fill: none; stroke: #b0b0b0; stroke-width: 0.8; stroke-linecap: square"/>
     </g>
     <g id="text_16">
      <!-- 80 -->
      <g transform="translate(255.500735 63.179232) scale(0.1 -0.1)">
       <use href="#DejaVuSans-38"/>
       <use href="#DejaVuSans-30" transform="translate(63.623047 0)"/>
      </g>
     </g>
    </g>
    <g id="ytick_9">
     <g id="line2d_17">
      <path d="M 210.24 41.472 
C 227.712754 41.472 245.015607 44.913752 261.158327 51.600285 
C 277.301046 58.286818 291.969697 68.088097 304.3248 80.4432 
C 316.679903 92.798303 326.481182 107.466954 333.167715 123.609673 
C 339.854248 139.752393 343.296 157.055246 343.296 174.528 
C 343.296 192.000754 339.854248 209.303607 333.167715 225.446327 
C 326.481182 241.589046 316.679903 256.257697 304.3248 268.6128 
C 291.969697 280.967903 277.301046 290.769182 261.158327 297.455715 
C 245.015607 304.142248 227.712754 307.584 210.24 307.584 
C 192.767246 307.584 175.464393 304.142248 159.321673 297.455715 
C 143.178954 290.769182 128.510303 280.967903 116.1552 268.6128 
C 103.800097 256.257697 93.998818 241.589046 87.312285 225.446327 
C 80.625752 209.303607 77.184 192.000754 77.184 174.528 
C 77.184 157.055246 80.625752 139.752393 87.312285 123.609673 
C 93.998818 107.466954 103.800097 92.798303 116.1552 80.4432 
C 128.510303 68.088097 143.178954 58.286818 159.321673 51.600285 
C 175.464393 44.913752 192.767246 41.472 210.24 41.472 
" clip-path="url(#pded382b021)" style="fill: none; stroke: #b0b0b0; stroke-width: 0.8; stroke-linecap: square"/>
     </g>
     <g id="text_17">
      <!-- 90 -->
      <g transform="translate(261.158327 49.520597) scale(0.1 -0.1)">
       <use href="#DejaVuSans-39"/>
       <use href="#DejaVuSans-30" transform="translate(63.623047 0)"/>
      </g>
     </g>
    </g>
   </g>
   <g id="patch_3">
    <path d="M 210.24 41.472 
C 192.767246 41.472 175.464393 44.913752 159.321673 51.600285 
C 143.178954 58.286818 128.510303 68.088097 116.1552 80.4432 
C 103.800097 92.798303 93.998818 107.466954 87.312285 123.609673 
C 80.625752 139.752393 77.184 157.055246 77.184 174.528 
C 77.184 192.000754 80.625752 209.303607 87.312285 225.446327 
C 93.998818 241.589046 103.800097 256.257697 116.1552 268.6128 
C 128.510303 280.967903 143.178954 290.769182 159.321673 297.455715 
C 175.464393 304.142248 192.767246 307.584 210.24 307.584 
C 227.712754 307.584 245.015607 304.142248 261.158327 297.455715 
C 277.301046 290.769182 291.969697 280.967903 304.3248 268.6128 
C 316.679903 256.257697 326.481182 241.589046 333.167715 225.446327 
C 339.854248 209.303607 343.296 192.000754 343.296 174.528 
C 343.296 157.055246 339.854248 139.752393 333.167715 123.609673 
C 326.481182 107.466954 316.679903 92.798303 304.3248 80.4432 
C 291.969697 68.088097 277.301046 58.286818 261.158327 51.600285 
C 245.015607 44.913752 227.712754 41.472 210.24 41.472 
" style="fill: none; stroke: #000000; stroke-width: 0.8; stroke-linejoin: miter; stroke-linecap: square"/>
   </g>
   <g id="text_18">
    <!-- Delta Antenna Phase Biases: GMTSG5          NONE GALILEO-E6 -->
    <g transform="translate(22.13625 16.632938) scale(0.12 -0.12)">
     <defs>
      <path id="DejaVuSans-44" d="M 1259 4147 
L 1259 519 
L 2022 519 
Q 2988 519 3436 956 
Q 3884 1394 3884 2338 
Q 3884 3275 3436 3711 
Q 2988 4147 2022 4147 
L 1259 4147 
z
M 628 4666 
L 1925 4666 
Q 3281 4666 3915 4102 
Q 4550 3538 4550 2338 
Q 4550 1131 3912 565 
Q 3275 0 1925 0 
L 628 0 
L 628 4666 
z
" transform="scale(0.015625)"/>
      <path id="DejaVuSans-65" d="M 3597 1894 
L 3597 1613 
L 953 1613 
Q 991 1019 1311 708 
Q 1631 397 2203 397 
Q 2534 397 2845 478 
Q 3156 559 3463 722 
L 3463 178 
Q 3153 47 2828 -22 
Q 2503 -91 2169 -91 
Q 1331 -91 842 396 
Q 353 884 353 1716 
Q 353 2575 817 3079 
Q 1281 3584 2069 3584 
Q 2775 3584 3186 3129 
Q 3597 2675 3597 1894 
z
M 3022 2063 
Q 3016 2534 2758 2815 
Q 2500 3097 2075 3097 
Q 1594 3097 1305 2825 
Q 1016 2553 972 2059 
L 3022 2063 
z
" transform="scale(0.015625)"/>
      <path id="DejaVuSans-6c" d="M 603 4863 
L 1178 4863 
L 1178 0 
L 603 0 
L 603 4863 
z
" transform="scale(0.015625)"/>
      <path id="DejaVuSans-74" d="M 1172 4494 
L 1172 3500 
L 2356 3500 
L 2356 3053 
L 1172 3053 
L 1172 1153 
Q 1172 725 1289 603 
Q 1406 481 1766 481 
L 2356 481 
L 2356 0 
L 1766 0 
Q 1100 0 847 248 
Q 594 497 594 1153 
L 594 3053 
L 172 3053 
L 172 3500 
L 594 3500 
L 594 4494 
L 1172 4494 
z
" transform="scale(0.015625)"/>
      <path id="DejaVuSans-61" d="M 2194 1759 
Q 1497 1759 1228 1600 
Q 959 1441 959 1056 
Q 959 750 1161 570 
Q 1363 391 1709 391 
Q 2188 391 2477 730 
Q 2766 1069 2766 1631 
L 2766 1759 
L 2194 1759 
z
M 3341 1997 
L 3341 0 
L 2766 0 
L 2766 531 
Q 2569 213 2275 61 
Q 1981 -91 1556 -91 
Q 1019 -91 701 211 
Q 384 513 384 1019 
Q 384 1609 779 1909 
Q 1175 2209 1959 2209 
L 2766 2209 
L 2766 2266 
Q 2766 2663 2505 2880 
Q 2244 3097 1772 3097 
Q 1472 3097 1187 3025 
Q 903 2953 641 2809 
L 641 3341 
Q 956 3463 1253 3523 
Q 1550 3584 1831 3584 
Q 2591 3584 2966 3190 
Q 3341 2797 3341 1997 
z
" transform="scale(0.015625)"/>
      <path id="DejaVuSans-20" transform="scale(0.015625)"/>
      <path id="DejaVuSans-41" d="M 2188 4044 
L 1331 1722 
L 3047 1722 
L 2188 4044 
z
M 1831 4666 
L 2547 4666 
L 4325 0 
L 3669 0 
L 3244 1197 
L 1141 1197 
L 716 0 
L 50 0 
L 1831 4666 
z
" transform="scale(0.015625)"/>
      <path id="DejaVuSans-6e" d="M 3513 2113 
L 3513 0 
L 2938 0 
L 2938 2094 
Q 2938 2591 2744 2837 
Q 2550 3084 2163 3084 
Q 1697 3084 1428 2787 
Q 1159 2491 1159 1978 
L 1159 0 
L 581 0 
L 581 3500 
L 1159 3500 
L 1159 2956 
Q 1366 3272 1645 3428 
Q 1925 3584 2291 3584 
Q 2894 3584 3203 3211 
Q 3513 2838 3513 2113 
z
" transform="scale(0.015625)"/>
      <path id="DejaVuSans-50" d="M 1259 4147 
L 1259 2394 
L 2053 2394 
Q 2494 2394 2734 2622 
Q 2975 2850 2975 3272 
Q 2975 3691 2734 3919 
Q 2494 4147 2053 4147 
L 1259 4147 
z
M 628 4666 
L 2053 4666 
Q 2838 4666 3239 4311 
Q 3641 3956 3641 3272 
Q 3641 2581 3239 2228 
Q 2838 1875 2053 1875 
L 1259 1875 
L 1259 0 
L 628 0 
L 628 4666 
z
" transform="scale(0.015625)"/>
      <path id="DejaVuSans-68" d="M 3513 2113 
L 3513 0 
L 2938 0 
L 2938 2094 
Q 2938 2591 2744 2837 
Q 2550 3084 2163 3084 
Q 1697 3084 1428 2787 
Q 1159 2491 1159 1978 
L 1159 0 
L 581 0 
L 581 4863 
L 1159 4863 
L 1159 2956 
Q 1366 3272 1645 3428 
Q 1925 3584 2291 3584 
Q 2894 3584 3203 3211 
Q 3513 2838 3513 2113 
z
" transform="scale(0.015625)"/>
      <path id="DejaVuSans-73" d="M 2834 3397 
L 2834 2853 
Q 2591 2978 2328 3040 
Q 2066 3103 1784 3103 
Q 1356 3103 1142 2972 
Q 928 2841 928 2578 
Q 928 2378 1081 2264 
Q 1234 2150 1697 2047 
L 1894 2003 
Q 2506 1872 2764 1633 
Q 3022 1394 3022 966 
Q 3022 478 2636 193 
Q 2250 -91 1575 -91 
Q 1294 -91 989 -36 
Q 684 19 347 128 
L 347 722 
Q 666 556 975 473 
Q 1284 391 1588 391 
Q 1994 391 2212 530 
Q 2431 669 2431 922 
Q 2431 1156 2273 1281 
Q 2116 1406 1581 1522 
L 1381 1569 
Q 847 1681 609 1914 
Q 372 2147 372 2553 
Q 372 3047 722 3315 
Q 1072 3584 1716 3584 
Q 2034 3584 2315 3537 
Q 2597 3491 2834 3397 
z
" transform="scale(0.015625)"/>
      <path id="DejaVuSans-42" d="M 1259 2228 
L 1259 519 
L 2272 519 
Q 2781 519 3026 730 
Q 3272 941 3272 1375 
Q 3272 1813 3026 2020 
Q 2781 2228 2272 2228 
L 1259 2228 
z
M 1259 4147 
L 1259 2741 
L 2194 2741 
Q 2656 2741 2882 2914 
Q 3109 3088 3109 3444 
Q 3109 3797 2882 3972 
Q 2656 4147 2194 4147 
L 1259 4147 
z
M 628 4666 
L 2241 4666 
Q 2963 4666 3353 4366 
Q 3744 4066 3744 3513 
Q 3744 3084 3544 2831 
Q 3344 2578 2956 2516 
Q 3422 2416 3680 2098 
Q 3938 1781 3938 1306 
Q 3938 681 3513 340 
Q 3088 0 2303 0 
L 628 0 
L 628 4666 
z
" transform="scale(0.015625)"/>
      <path id="DejaVuSans-69" d="M 603 3500 
L 1178 3500 
L 1178 0 
L 603 0 
L 603 3500 
z
M 603 4863 
L 1178 4863 
L 1178 4134 
L 603 4134 
L 603 4863 
z
" transform="scale(0.015625)"/>
      <path id="DejaVuSans-3a" d="M 750 794 
L 1409 794 
L 1409 0 
L 750 0 
L 750 794 
z
M 750 3309 
L 1409 3309 
L 1409 2516 
L 750 2516 
L 750 3309 
z
" transform="scale(0.015625)"/>
      <path id="DejaVuSans-47" d="M 3809 666 
L 3809 1919 
L 2778 1919 
L 2778 2438 
L 4434 2438 
L 4434 434 
Q 4069 175 3628 42 
Q 3188 -91 2688 -91 
Q 1594 -91 976 548 
Q 359 1188 359 2328 
Q 359 3472 976 4111 
Q 1594 4750 2688 4750 
Q 3144 4750 3555 4637 
Q 3966 4525 4313 4306 
L 4313 3634 
Q 3963 3931 3569 4081 
Q 3175 4231 2741 4231 
Q 1884 4231 1454 3753 
Q 1025 3275 1025 2328 
Q 1025 1384 1454 906 
Q 1884 428 2741 428 
Q 3075 428 3337 486 
Q 3600 544 3809 666 
z
" transform="scale(0.015625)"/>
      <path id="DejaVuSans-4d" d="M 628 4666 
L 1569 4666 
L 2759 1491 
L 3956 4666 
L 4897 4666 
L 4897 0 
L 4281 0 
L 4281 4097 
L 3078 897 
L 2444 897 
L 1241 4097 
L 1241 0 
L 628 0 
L 628 4666 
z
" transform="scale(0.015625)"/>
      <path id="DejaVuSans-54" d="M -19 4666 
L 3928 4666 
L 3928 4134 
L 2272 4134 
L 2272 0 
L 1638 0 
L 1638 4134 
L -19 4134 
L -19 4666 
z
" transform="scale(0.015625)"/>
      <path id="DejaVuSans-53" d="M 3425 4513 
L 3425 3897 
Q 3066 4069 2747 4153 
Q 2428 4238 2131 4238 
Q 1616 4238 1336 4038 
Q 1056 3838 1056 3469 
Q 1056 3159 1242 3001 
Q 1428 2844 1947 2747 
L 2328 2669 
Q 3034 2534 3370 2195 
Q 3706 1856 3706 1288 
Q 3706 609 3251 259 
Q 2797 -91 1919 -91 
Q 1588 -91 1214 -16 
Q 841 59 441 206 
L 441 856 
Q 825 641 1194 531 
Q 1563 422 1919 422 
Q 2459 422 2753 634 
Q 3047 847 3047 1241 
Q 3047 1584 2836 1778 
Q 2625 1972 2144 2069 
L 1759 2144 
Q 1053 2284 737 2584 
Q 422 2884 422 3419 
Q 422 4038 858 4394 
Q 1294 4750 2059 4750 
Q 2388 4750 2728 4690 
Q 3069 4631 3425 4513 
z
" transform="scale(0.015625)"/>
      <path id="DejaVuSans-4e" d="M 628 4666 
L 1478 4666 
L 3547 763 
L 3547 4666 
L 4159 4666 
L 4159 0 
L 3309 0 
L 1241 3903 
L 1241 0 
L 628 0 
L 628 4666 
z
" transform="scale(0.015625)"/>
      <path id="DejaVuSans-4f" d="M 2522 4238 
Q 1834 4238 1429 3725 
Q 1025 3213 1025 2328 
Q 1025 1447 1429 934 
Q 1834 422 2522 422 
Q 3209 422 3611 934 
Q 4013 1447 4013 2328 
Q 4013 3213 3611 3725 
Q 3209 4238 2522 4238 
z
M 2522 4750 
Q 3503 4750 4090 4092 
Q 4678 3434 4678 2328 
Q 4678 1225 4090 567 
Q 3503 -91 2522 -91 
Q 1538 -91 948 565 
Q 359 1222 359 2328 
Q 359 3434 948 4092 
Q 1538 4750 2522 4750 
z
" transform="scale(0.015625)"/>
      <path id="DejaVuSans-45" d="M 628 4666 
L 3578 4666 
L 3578 4134 
L 1259 4134 
L 1259 2753 
L 3481 2753 
L 3481 2222 
L 1259 2222 
L 1259 531 
L 3634 531 
L 3634 0 
L 628 0 
L 628 4666 
z
" transform="scale(0.015625)"/>
      <path id="DejaVuSans-4c" d="M 628 4666 
L 1259 4666 
L 1259 531 
L 3531 531 
L 3531 0 
L 628 0 
L 628 4666 
z
" transform="scale(0.015625)"/>
      <path id="DejaVuSans-49" d="M 628 4666 
L 1259 4666 
L 1259 0 
L 628 0 
L 628 4666 
z
" transform="scale(0.015625)"/>
      <path id="DejaVuSans-2d" d="M 313 2009 
L 1997 2009 
L 1997 1497 
L 313 1497 
L 313 2009 
z
" transform="scale(0.015625)"/>
     </defs>
     <use href="#DejaVuSans-44"/>
     <use href="#DejaVuSans-65" transform="translate(77.001953 0)"/>
     <use href="#DejaVuSans-6c" transform="translate(138.525391 0)"/>
     <use href="#DejaVuSans-74" transform="translate(166.308594 0)"/>
     <use href="#DejaVuSans-61" transform="translate(205.517578 0)"/>
     <use href="#DejaVuSans-20" transform="translate(266.796875 0)"/>
     <use href="#DejaVuSans-41" transform="translate(298.583984 0)"/>
     <use href="#DejaVuSans-6e" transform="translate(366.992188 0)"/>
     <use href="#DejaVuSans-74" transform="translate(430.371094 0)"/>
     <use href="#DejaVuSans-65" transform="translate(469.580078 0)"/>
     <use href="#DejaVuSans-6e" transform="translate(531.103516 0)"/>
     <use href="#DejaVuSans-6e" transform="translate(594.482422 0)"/>
     <use href="#DejaVuSans-61" transform="translate(657.861328 0)"/>
     <use href="#DejaVuSans-20" transform="translate(719.140625 0)"/>
     <use href="#DejaVuSans-50" transform="translate(750.927734 0)"/>
     <use href="#DejaVuSans-68" transform="translate(811.230469 0)"/>
     <use href="#DejaVuSans-61" transform="translate(874.609375 0)"/>
     <use href="#DejaVuSans-73" transform="translate(935.888672 0)"/>
     <use href="#DejaVuSans-65" transform="translate(987.988281 0)"/>
     <use href="#DejaVuSans-20" transform="translate(1049.511719 0)"/>
     <use href="#DejaVuSans-42" transform="translate(1081.298828 0)"/>
     <use href="#DejaVuSans-69" transform="translate(1149.902344 0)"/>
     <use href="#DejaVuSans-61" transform="translate(1177.685547 0)"/>
     <use href="#DejaVuSans-73" transform="translate(1238.964844 0)"/>
     <use href="#DejaVuSans-65" transform="translate(1291.064453 0)"/>
     <use href="#DejaVuSans-73" transform="translate(1352.587891 0)"/>
     <use href="#DejaVuSans-3a" transform="translate(1404.6875 0)"/>
     <use href="#DejaVuSans-20" transform="translate(1438.378906 0)"/>
     <use href="#DejaVuSans-47" transform="translate(1470.166016 0)"/>
     <use href="#DejaVuSans-4d" transform="translate(1547.65625 0)"/>
     <use href="#DejaVuSans-54" transform="translate(1633.935547 0)"/>
     <use href="#DejaVuSans-53" transform="translate(1695.019531 0)"/>
     <use href="#DejaVuSans-47" transform="translate(1758.496094 0)"/>
     <use href="#DejaVuSans-35" transform="translate(1835.986328 0)"/>
     <use href="#DejaVuSans-20" transform="translate(1899.609375 0)"/>
     <use href="#DejaVuSans-20" transform="translate(1931.396484 0)"/>
     <use href="#DejaVuSans-20" transform="translate(1963.183594 0)"/>
     <use href="#DejaVuSans-20" transform="translate(1994.970703 0)"/>
     <use href="#DejaVuSans-20" transform="translate(2026.757812 0)"/>
     <use href="#DejaVuSans-20" transform="translate(2058.544922 0)"/>
     <use href="#DejaVuSans-20" transform="translate(2090.332031 0)"/>
     <use href="#DejaVuSans-20" transform="translate(2122.119141 0)"/>
     <use href="#DejaVuSans-20" transform="translate(2153.90625 0)"/>
     <use href="#DejaVuSans-20" transform="translate(2185.693359 0)"/>
     <use href="#DejaVuSans-4e" transform="translate(2217.480469 0)"/>
     <use href="#DejaVuSans-4f" transform="translate(2292.285156 0)"/>
     <use href="#DejaVuSans-4e" transform="translate(2370.996094 0)"/>
     <use href="#DejaVuSans-45" transform="translate(2445.800781 0)"/>
     <use href="#DejaVuSans-20" transform="translate(2508.984375 0)"/>
     <use href="#DejaVuSans-47" transform="translate(2540.771484 0)"/>
     <use href="#DejaVuSans-41" transform="translate(2618.261719 0)"/>
     <use href="#DejaVuSans-4c" transform="translate(2686.669922 0)"/>
     <use href="#DejaVuSans-49" transform="translate(2742.382812 0)"/>
     <use href="#DejaVuSans-4c" transform="translate(2771.875 0)"/>
     <use href="#DejaVuSans-45" transform="translate(2827.587891 0)"/>
     <use href="#DejaVuSans-4f" transform="translate(2890.771484 0)"/>
     <use href="#DejaVuSans-2d" transform="translate(2972.232422 0)"/>
     <use href="#DejaVuSans-45" transform="translate(3008.316406 0)"/>
     <use href="#DejaVuSans-36" transform="translate(3071.5 0)"/>
    </g>
   </g>
  </g>
  <g id="axes_2">
   <g id="patch_4">
    <path d="M 361.152 307.584 
L 374.4576 307.584 
L 374.4576 41.472 
L 361.152 41.472 
z
" style="fill: #ffffff"/>
   </g>
   <g id="QuadMesh_1">
    <path d="M 361.44 307.44 
L 374.4 307.44 
L 374.4 280.8 
L 361.44 280.8 
L 361.44 307.44 
" clip-path="url(#p67af23f93f)" style="fill: #471365"/>
    <path d="M 361.44 280.8 
L 374.4 280.8 
L 374.4 254.16 
L 361.44 254.16 
L 361.44 280.8 
" clip-path="url(#p67af23f93f)" style="fill: #463480"/>
    <path d="M 361.44 254.16 
L 374.4 254.16 
L 374.4 227.52 
L 361.44 227.52 
L 361.44 254.16 
" clip-path="url(#p67af23f93f)" style="fill: #3b528b"/>
    <path d="M 361.44 227.52 
L 374.4 227.52 
L 374.4 200.88 
L 361.44 200.88 
L 361.44 227.52 
" clip-path="url(#p67af23f93f)" style="fill: #2f6c8e"/>
    <path d="M 361.44 200.88 
L 374.4 200.88 
L 374.4 174.24 
L 361.44 174.24 
L 361.44 200.88 
" clip-path="url(#p67af23f93f)" style="fill: #25848e"/>
    <path d="M 361.44 174.24 
L 374.4 174.24 
L 374.4 147.6 
L 361.44 147.6 
L 361.44 174.24 
" clip-path="url(#p67af23f93f)" style="fill: #1e9c89"/>
    <path d="M 361.44 147.6 
L 374.4 147.6 
L 374.4 120.96 
L 361.44 120.96 
L 361.44 147.6 
" clip-path="url(#p67af23f93f)" style="fill: #2fb47c"/>
    <path d="M 361.44 120.96 
L 374.4 120.96 
L 374.4 95.04 
L 361.44 95.04 
L 361.44 120.96 
" clip-path="url(#p67af23f93f)" style="fill: #5ec962"/>
    <path d="M 361.44 95.04 
L 374.4 95.04 
L 374.4 68.4 
L 361.44 68.4 
L 361.44 95.04 
" clip-path="url(#p67af23f93f)" style="fill: #9bd93c"/>
    <path d="M 361.44 68.4 
L 374.4 68.4 
L 374.4 41.76 
L 361.44 41.76 
L 361.44 68.4 
" clip-path="url(#p67af23f93f)" style="fill: #dfe318"/>
   </g>
   <g id="matplotlib.axis_3"/>
   <g id="matplotlib.axis_4">
    <g id="ytick_10">
     <g id="line2d_18">
      <defs>
       <path id="m33c4ce201d" d="M 0 0 
L 3.5 0 
" style="stroke: #000000; stroke-width: 0.8"/>
      </defs>
      <g>
       <use href="#m33c4ce201d" x="374.76" y="281.16" style="stroke: #000000; stroke-width: 0.8"/>
      </g>
     </g>
     <g id="text_19">
      <!-- −4 -->
      <g transform="translate(381.4576 284.772019) scale(0.1 -0.1)">
       <defs>
        <path id="DejaVuSans-2212" d="M 678 2272 
L 4684 2272 
L 4684 1741 
L 678 1741 
L 678 2272 
z
" transform="scale(0.015625)"/>
       </defs>
       <use href="#DejaVuSans-2212"/>
       <use href="#DejaVuSans-34" transform="translate(83.789062 0)"/>
      </g>
     </g>
    </g>
    <g id="ytick_11">
     <g id="line2d_19">
      <g>
       <use href="#m33c4ce201d" x="374.76" y="227.88" style="stroke: #000000; stroke-width: 0.8"/>
      </g>
     </g>
     <g id="text_20">
      <!-- −2 -->
      <g transform="translate(381.4576 231.549619) scale(0.1 -0.1)">
       <use href="#DejaVuSans-2212"/>
       <use href="#DejaVuSans-32" transform="translate(83.789062 0)"/>
      </g>
     </g>
    </g>
    <g id="ytick_12">
     <g id="line2d_20">
      <g>
       <use href="#m33c4ce201d" x="374.76" y="174.6" style="stroke: #000000; stroke-width: 0.8"/>
      </g>
     </g>
     <g id="text_21">
      <!-- 0 -->
      <g transform="translate(381.4576 178.327219) scale(0.1 -0.1)">
       <use href="#DejaVuSans-30"/>
      </g>
     </g>
    </g>
    <g id="ytick_13">
     <g id="line2d_21">
      <g>
       <use href="#m33c4ce201d" x="374.76" y="121.32" style="stroke: #000000; stroke-width: 0.8"/>
      </g>
     </g>
     <g id="text_22">
      <!-- 2 -->
      <g transform="translate(381.4576 125.104819) scale(0.1 -0.1)">
       <use href="#DejaVuSans-32"/>
      </g>
     </g>
    </g>
    <g id="ytick_14">
     <g id="line2d_22">
      <g>
       <use href="#m33c4ce201d" x="374.76" y="68.76" style="stroke: #000000; stroke-width: 0.8"/>
      </g>
     </g>
     <g id="text_23">
      <!-- 4 -->
      <g transform="translate(381.4576 71.882419) scale(0.1 -0.1)">
       <use href="#DejaVuSans-34"/>
      </g>
     </g>
    </g>
    <g id="text_24">
     <!-- Bias (mm) -->
     <g transform="translate(407.798225 200.247531) rotate(-90) scale(0.1 -0.1)">
      <defs>
       <path id="DejaVuSans-28" d="M 1984 4856 
Q 1566 4138 1362 3434 
Q 1159 2731 1159 2009 
Q 1159 1288 1364 580 
Q 1569 -128 1984 -844 
L 1484 -844 
Q 1016 -109 783 600 
Q 550 1309 550 2009 
Q 550 2706 781 3412 
Q 1013 4119 1484 4856 
L 1984 4856 
z
" transform="scale(0.015625)"/>
       <path id="DejaVuSans-6d" d="M 3328 2828 
Q 3544 3216 3844 3400 
Q 4144 3584 4550 3584 
Q 5097 3584 5394 3201 
Q 5691 2819 5691 2113 
L 5691 0 
L 5113 0 
L 5113 2094 
Q 5113 2597 4934 2840 
Q 4756 3084 4391 3084 
Q 3944 3084 3684 2787 
Q 3425 2491 3425 1978 
L 3425 0 
L 2847 0 
L 2847 2094 
Q 2847 2600 2669 2842 
Q 2491 3084 2119 3084 
Q 1678 3084 1418 2786 
Q 1159 2488 1159 1978 
L 1159 0 
L 581 0 
L 581 3500 
L 1159 3500 
L 1159 2956 
Q 1356 3278 1631 3431 
Q 1906 3584 2284 3584 
Q 2666 3584 2933 3390 
Q 3200 3197 3328 2828 
z
" transform="scale(0.015625)"/>
       <path id="DejaVuSans-29" d="M 513 4856 
L 1013 4856 
Q 1481 4119 1714 3412 
Q 1947 2706 1947 2009 
Q 1947 1309 1714 600 
Q 1481 -109 1013 -844 
L 513 -844 
Q 928 -128 1133 580 
Q 1338 1288 1338 2009 
Q 1338 2731 1133 3434 
Q 928 4138 513 4856 
z
" transform="scale(0.015625)"/>
      </defs>
      <use href="#DejaVuSans-42"/>
      <use href="#DejaVuSans-69" transform="translate(68.603516 0)"/>
      <use href="#DejaVuSans-61" transform="translate(96.386719 0)"/>
      <use href="#DejaVuSans-73" transform="translate(157.666016 0)"/>
      <use href="#DejaVuSans-20" transform="translate(209.765625 0)"/>
      <use href="#DejaVuSans-28" transform="translate(241.552734 0)"/>
      <use href="#DejaVuSans-6d" transform="translate(280.566406 0)"/>
      <use href="#DejaVuSans-6d" transform="translate(377.978516 0)"/>
      <use href="#DejaVuSans-29" transform="translate(475.390625 0)"/>
     </g>
    </g>
   </g>
   <g id="LineCollection_1"/>
   <g id="patch_5">
    <path d="M 361.8 307.8 
L 368.28 307.8 
L 374.76 307.8 
L 374.76 42.12 
L 368.28 42.12 
L 361.8 42.12 
L 361.8 307.8 
z
" style="fill: none; stroke: #000000; stroke-width: 0.8; stroke-linejoin: miter; stroke-linecap: square"/>
   </g>
  </g>
 </g>
 <defs>
  <clipPath id="pded382b021">
   <path d="M 343.296 174.528 
C 343.296 157.055246 339.854248 139.752393 333.167715 123.609673 
C 326.481182 107.466954 316.679903 92.798303 304.3248 80.4432 
C 291.969697 68.088097 277.301046 58.286818 261.158327 51.600285 
C 245.015607 44.913752 227.712754 41.472 210.24 41.472 
C 192.767246 41.472 175.464393 44.913752 159.321673 51.600285 
C 143.178954 58.286818 128.510303 68.088097 116.1552 80.4432 
C 103.800097 92.798303 93.998818 107.466954 87.312285 123.609673 
C 80.625752 139.752393 77.184 157.055246 77.184 174.528 
C 77.184 192.000754 80.625752 209.303607 87.312285 225.446327 
C 93.998818 241.589046 103.800097 256.257697 116.1552 268.6128 
C 128.510303 280.967903 143.178954 290.769182 159.321673 297.455715 
C 175.464393 304.142248 192.767246 307.584 210.24 307.584 
C 227.712754 307.584 245.015607 304.142248 261.158327 297.455715 
C 277.301046 290.769182 291.969697 280.967903 304.3248 268.6128 
C 316.679903 256.257697 326.481182 241.589046 333.167715 225.446327 
C 339.854248 209.303607 343.296 192.000754 343.296 174.528 
M 210.24 174.528 
C 210.24 174.528 210.24 174.528 210.24 174.528 
C 210.24 174.528 210.24 174.528 210.24 174.528 
C 210.24 174.528 210.24 174.528 210.24 174.528 
C 210.24 174.528 210.24 174.528 210.24 174.528 
C 210.24 174.528 210.24 174.528 210.24 174.528 
C 210.24 174.528 210.24 174.528 210.24 174.528 
C 210.24 174.528 210.24 174.528 210.24 174.528 
C 210.24 174.528 210.24 174.528 210.24 174.528 
C 210.24 174.528 210.24 174.528 210.24 174.528 
C 210.24 174.528 210.24 174.528 210.24 174.528 
C 210.24 174.528 210.24 174.528 210.24 174.528 
C 210.24 174.528 210.24 174.528 210.24 174.528 
C 210.24 174.528 210.24 174.528 210.24 174.528 
C 210.24 174.528 210.24 174.528 210.24 174.528 
C 210.24 174.528 210.24 174.528 210.24 174.528 
C 210.24 174.528 210.24 174.528 210.24 174.528 
z
"/>
  </clipPath>
  <clipPath id="p67af23f93f">
   <rect x="361.152" y="41.472" width="13.3056" height="266.112"/>
  </clipPath>
 </defs>
</svg>
</body></html>
